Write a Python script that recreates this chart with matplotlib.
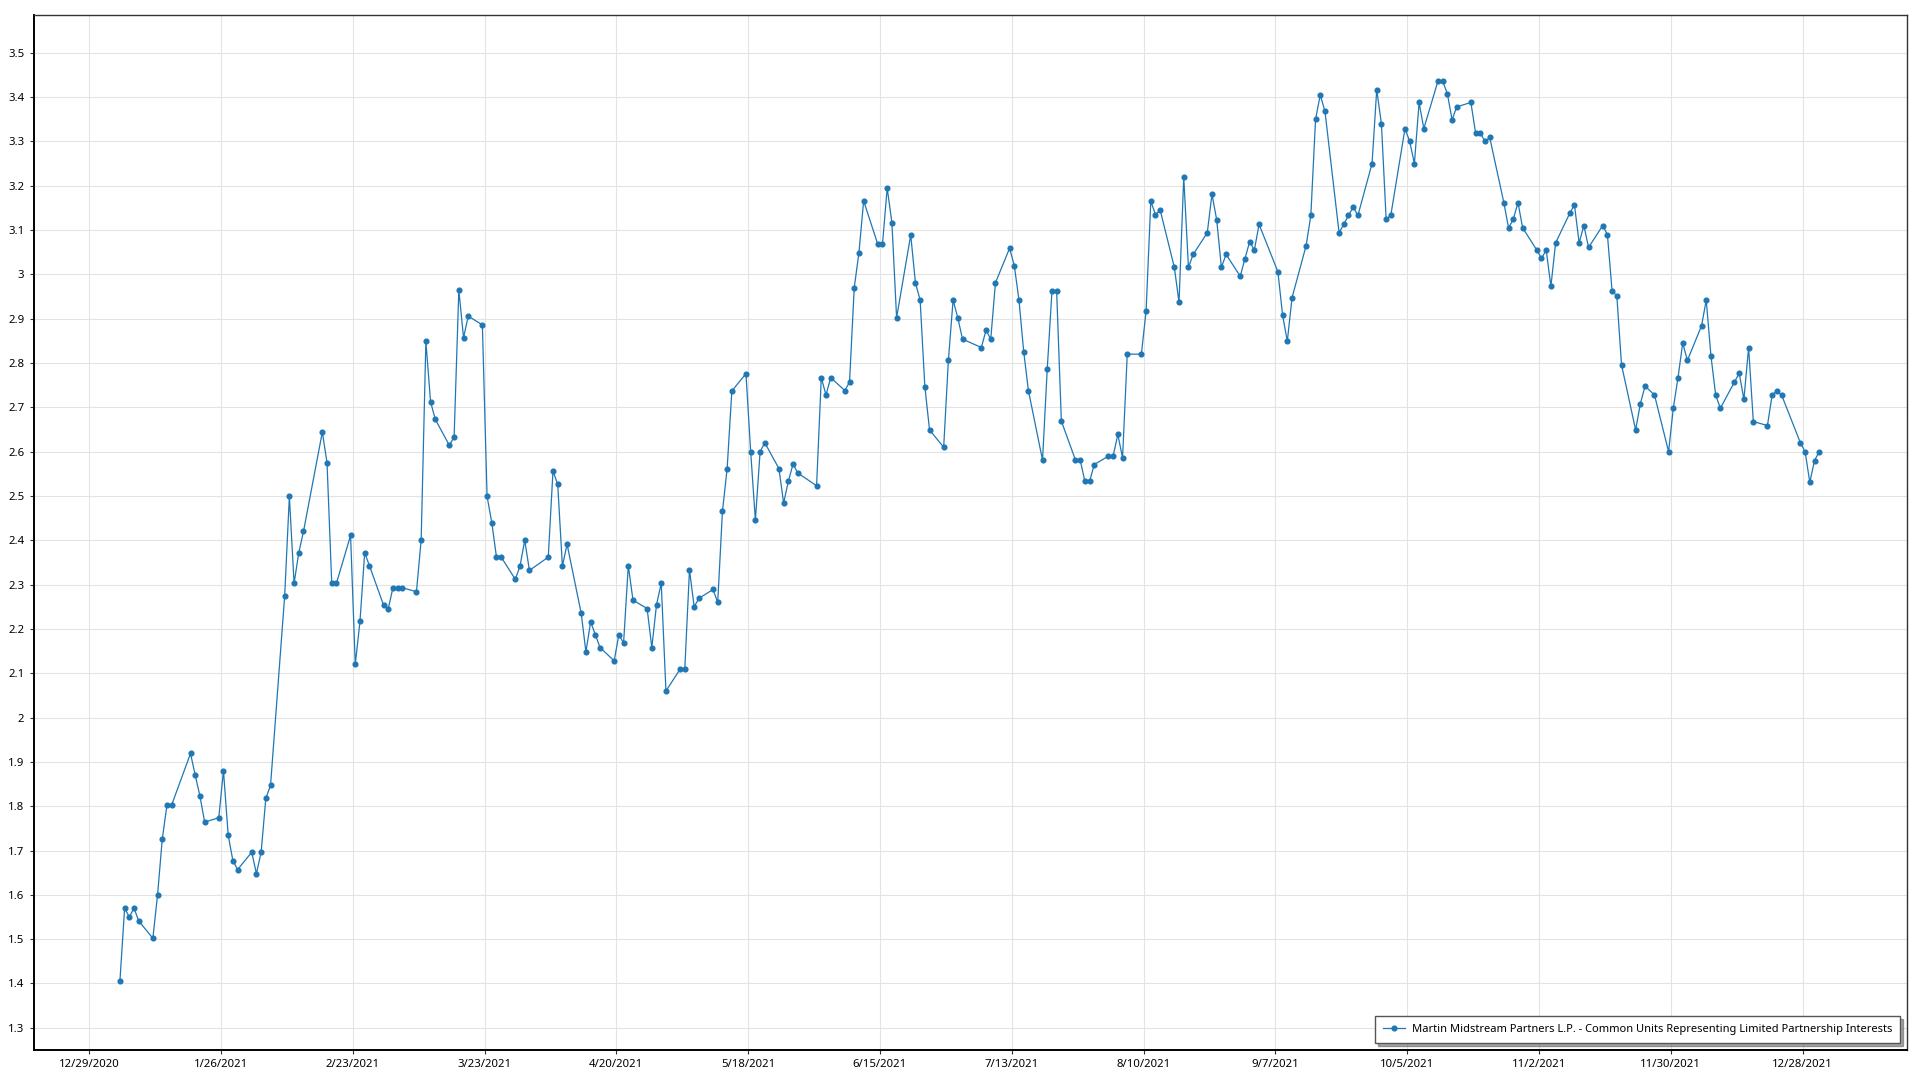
import pandas as pd
import matplotlib.pyplot as plt

# dados (preço diário, 2021)
series_label = "Martin Midstream Partners L.P. - Common Units Representing Limited Partnership Interests"

dates = [
    "2021-01-04", "2021-01-05", "2021-01-06", "2021-01-07", "2021-01-08", "2021-01-11", "2021-01-12",
    "2021-01-13", "2021-01-14", "2021-01-15", "2021-01-19", "2021-01-20", "2021-01-21", "2021-01-22",
    "2021-01-25", "2021-01-26", "2021-01-27", "2021-01-28", "2021-01-29",
    "2021-02-01", "2021-02-02", "2021-02-03", "2021-02-04", "2021-02-05", "2021-02-08", "2021-02-09",
    "2021-02-10", "2021-02-11", "2021-02-12", "2021-02-16", "2021-02-17", "2021-02-18", "2021-02-19",
    "2021-02-22", "2021-02-23", "2021-02-24", "2021-02-25", "2021-02-26",
    "2021-03-01", "2021-03-02", "2021-03-03", "2021-03-04", "2021-03-05", "2021-03-08", "2021-03-09",
    "2021-03-10", "2021-03-11", "2021-03-12", "2021-03-15", "2021-03-16", "2021-03-17", "2021-03-18",
    "2021-03-19", "2021-03-22", "2021-03-23", "2021-03-24", "2021-03-25", "2021-03-26", "2021-03-29",
    "2021-03-30", "2021-03-31",
    "2021-04-01", "2021-04-05", "2021-04-06", "2021-04-07", "2021-04-08", "2021-04-09", "2021-04-12",
    "2021-04-13", "2021-04-14", "2021-04-15", "2021-04-16", "2021-04-19", "2021-04-20", "2021-04-21",
    "2021-04-22", "2021-04-23", "2021-04-26", "2021-04-27", "2021-04-28", "2021-04-29", "2021-04-30",
    "2021-05-03", "2021-05-04", "2021-05-05", "2021-05-06", "2021-05-07", "2021-05-10", "2021-05-11",
    "2021-05-12", "2021-05-13", "2021-05-14", "2021-05-17", "2021-05-18", "2021-05-19", "2021-05-20",
    "2021-05-21", "2021-05-24", "2021-05-25", "2021-05-26", "2021-05-27", "2021-05-28",
    "2021-06-01", "2021-06-02", "2021-06-03", "2021-06-04", "2021-06-07", "2021-06-08", "2021-06-09",
    "2021-06-10", "2021-06-11", "2021-06-14", "2021-06-15", "2021-06-16", "2021-06-17", "2021-06-18",
    "2021-06-21", "2021-06-22", "2021-06-23", "2021-06-24", "2021-06-25", "2021-06-28", "2021-06-29",
    "2021-06-30",
    "2021-07-01", "2021-07-02", "2021-07-06", "2021-07-07", "2021-07-08", "2021-07-09", "2021-07-12",
    "2021-07-13", "2021-07-14", "2021-07-15", "2021-07-16", "2021-07-19", "2021-07-20", "2021-07-21",
    "2021-07-22", "2021-07-23", "2021-07-26", "2021-07-27", "2021-07-28", "2021-07-29", "2021-07-30",
    "2021-08-02", "2021-08-03", "2021-08-04", "2021-08-05", "2021-08-06", "2021-08-09", "2021-08-10",
    "2021-08-11", "2021-08-12", "2021-08-13", "2021-08-16", "2021-08-17", "2021-08-18", "2021-08-19",
    "2021-08-20", "2021-08-23", "2021-08-24", "2021-08-25", "2021-08-26", "2021-08-27", "2021-08-30",
    "2021-08-31",
    "2021-09-01", "2021-09-02", "2021-09-03", "2021-09-07", "2021-09-08", "2021-09-09", "2021-09-10",
    "2021-09-13", "2021-09-14", "2021-09-15", "2021-09-16", "2021-09-17", "2021-09-20", "2021-09-21",
    "2021-09-22", "2021-09-23", "2021-09-24", "2021-09-27", "2021-09-28", "2021-09-29", "2021-09-30",
    "2021-10-01", "2021-10-04", "2021-10-05", "2021-10-06", "2021-10-07", "2021-10-08", "2021-10-11",
    "2021-10-12", "2021-10-13", "2021-10-14", "2021-10-15", "2021-10-18", "2021-10-19", "2021-10-20",
    "2021-10-21", "2021-10-22", "2021-10-25", "2021-10-26", "2021-10-27", "2021-10-28", "2021-10-29",
    "2021-11-01", "2021-11-02", "2021-11-03", "2021-11-04", "2021-11-05", "2021-11-08", "2021-11-09",
    "2021-11-10", "2021-11-11", "2021-11-12", "2021-11-15", "2021-11-16", "2021-11-17", "2021-11-18",
    "2021-11-19", "2021-11-22", "2021-11-23", "2021-11-24", "2021-11-26", "2021-11-29", "2021-11-30",
    "2021-12-01", "2021-12-02", "2021-12-03", "2021-12-06", "2021-12-07", "2021-12-08", "2021-12-09",
    "2021-12-10", "2021-12-13", "2021-12-14", "2021-12-15", "2021-12-16", "2021-12-17", "2021-12-20",
    "2021-12-21", "2021-12-22", "2021-12-23", "2021-12-27", "2021-12-28", "2021-12-29", "2021-12-30",
    "2021-12-31",
]

prices = [
    1.405, 1.570, 1.550, 1.570, 1.541, 1.502, 1.600,
    1.726, 1.803, 1.803, 1.919, 1.870, 1.823, 1.764,
    1.774, 1.880, 1.735, 1.677, 1.657,
    1.696, 1.648, 1.696, 1.818, 1.847, 2.274, 2.499,
    2.303, 2.372, 2.420, 2.644, 2.575, 2.303, 2.303,
    2.411, 2.120, 2.217, 2.372, 2.343,
    2.254, 2.245, 2.293, 2.293, 2.293, 2.284, 2.401,
    2.849, 2.712, 2.673, 2.614, 2.634, 2.965, 2.857,
    2.906, 2.886, 2.499, 2.440, 2.362, 2.362, 2.312,
    2.342, 2.400,
    2.332, 2.362, 2.556, 2.527, 2.342, 2.391, 2.235,
    2.148, 2.216, 2.187, 2.158, 2.128, 2.187, 2.168,
    2.343, 2.265, 2.246, 2.158, 2.255, 2.303, 2.060,
    2.109, 2.109, 2.333, 2.250, 2.269, 2.289, 2.260,
    2.465, 2.562, 2.737, 2.776, 2.600, 2.445, 2.600,
    2.620, 2.562, 2.484, 2.533, 2.572, 2.552,
    2.523, 2.767, 2.728, 2.767, 2.738, 2.757, 2.970,
    3.049, 3.166, 3.068, 3.068, 3.195, 3.117, 2.902,
    3.089, 2.981, 2.942, 2.747, 2.649, 2.610, 2.806,
    2.942,
    2.902, 2.854, 2.835, 2.874, 2.854, 2.981, 3.059,
    3.020, 2.942, 2.826, 2.738, 2.581, 2.786, 2.962,
    2.962, 2.669, 2.581, 2.581, 2.533, 2.533, 2.571,
    2.590, 2.590, 2.639, 2.586, 2.820, 2.820, 2.917,
    3.165, 3.135, 3.145, 3.016, 2.937, 3.220, 3.016,
    3.045, 3.094, 3.181, 3.123, 3.016, 3.045, 2.996,
    3.035,
    3.074, 3.055, 3.113, 3.006, 2.908, 2.849, 2.947,
    3.065, 3.133, 3.350, 3.405, 3.368, 3.094, 3.113,
    3.133, 3.152, 3.133, 3.250, 3.417, 3.339, 3.124,
    3.134, 3.329, 3.300, 3.250, 3.388, 3.329, 3.436,
    3.436, 3.408, 3.349, 3.378, 3.388, 3.319, 3.319,
    3.300, 3.309, 3.162, 3.105, 3.124, 3.162, 3.105,
    3.055, 3.036, 3.055, 2.973, 3.071, 3.138, 3.157,
    3.071, 3.110, 3.061, 3.110, 3.090, 2.962, 2.952,
    2.796, 2.649, 2.708, 2.748, 2.728, 2.600, 2.698,
    2.767, 2.845, 2.806, 2.884, 2.942, 2.816, 2.728,
    2.698, 2.757, 2.777, 2.718, 2.835, 2.668, 2.659,
    2.728, 2.737, 2.728, 2.620, 2.600, 2.531, 2.580,
    2.600,
]

# ticks: de 28 em 28 dias no eixo x, 0.1 no eixo y
x_ticks = pd.date_range("2020-12-29", periods=14, freq="28D")
x_ticklabels = [f"{d.month}/{d.day}/{d.year}" for d in x_ticks]
y_ticks = [round(1.3 + 0.1 * i, 1) for i in range(23)]
y_ticklabels = [f"{v:g}" for v in y_ticks]

###############################################################################

plt.rcParams['font.family'] = ['Noto Sans', 'DejaVu Sans']

fig = plt.figure(figsize=(19.2, 10.8), dpi=100)
ax = fig.add_axes([34 / 1920, 1 - 1049.5 / 1080, (1906.5 - 34) / 1920, (1049.5 - 14.7) / 1080])

x = pd.to_datetime(dates) + pd.Timedelta(hours=13)
ax.plot(x, prices, color="#1f77b4", lw=0.9, marker="o", ms=3.4, label=series_label, zorder=3)

ax.set_xlim(pd.Timestamp("2020-12-17 07:00"), pd.Timestamp("2022-01-19 02:00"))
ax.set_ylim(1.251, 3.586)

ax.set_xticks(x_ticks)
ax.set_xticklabels(x_ticklabels, fontsize=8.2)
ax.set_yticks(y_ticks)
ax.set_yticklabels(y_ticklabels, fontsize=8.2)
ax.tick_params(axis="both", length=3, width=0.8, color="#333333", pad=4)

ax.grid(True, color="#e3e3e3", lw=0.8, zorder=0)
ax.set_axisbelow(True)

for side in ["left", "bottom"]:
    ax.spines[side].set_linewidth(1.4)
    ax.spines[side].set_color("black")
for side in ["top", "right"]:
    ax.spines[side].set_linewidth(1.0)
    ax.spines[side].set_color("#333333")

leg = ax.legend(loc="lower right", bbox_to_anchor=(0.9995, 0.001), fontsize=8.0,
                frameon=True, fancybox=False, shadow=True, handlelength=2.0,
                borderpad=0.7, handletextpad=0.6)
leg.get_frame().set_edgecolor("#555555")
leg.get_frame().set_linewidth(1.0)

fig.savefig("out.png", dpi=100)
